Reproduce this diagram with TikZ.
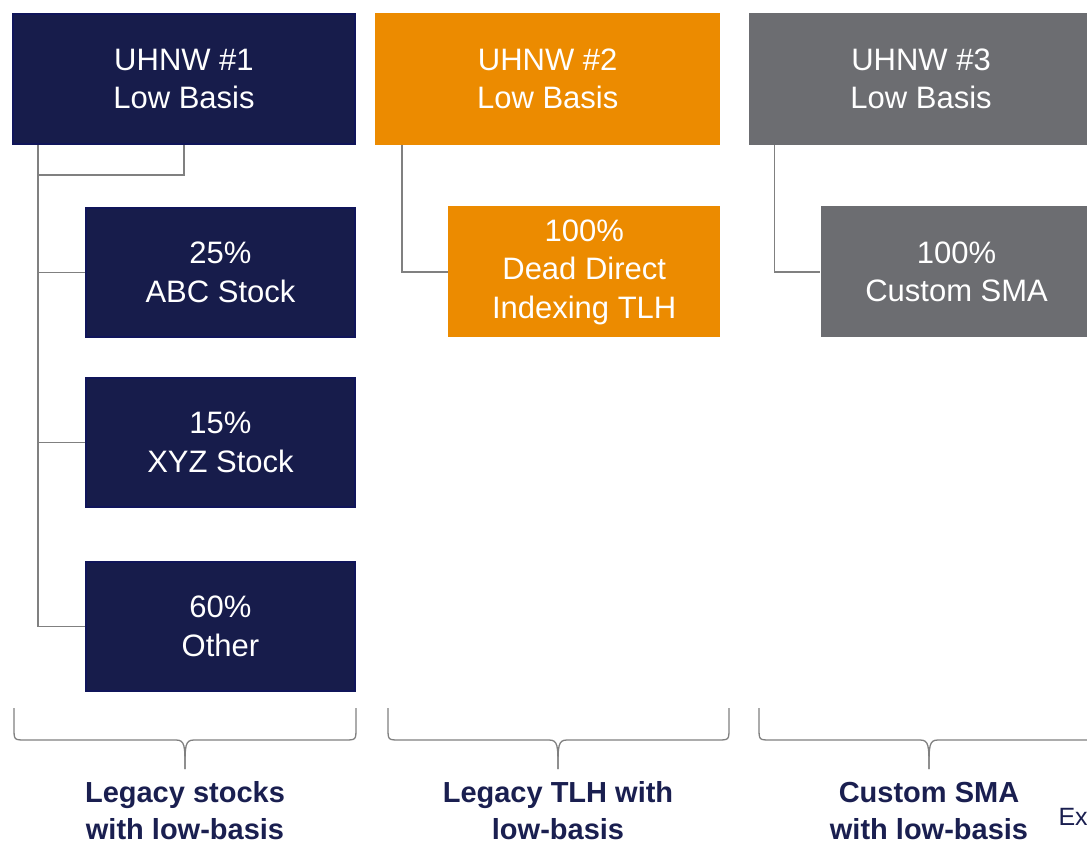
\documentclass[tikz,border=0pt]{standalone}
\usepackage{fontspec}
\setmainfont{Liberation Sans}
\usetikzlibrary{positioning, calc}

\definecolor{navy}{HTML}{171C4B}
\definecolor{navyedge}{HTML}{10155A}
\definecolor{amber}{HTML}{EC8B00}
\definecolor{slate}{HTML}{6C6D71}
\definecolor{linegrey}{HTML}{808080}
\definecolor{labelnavy}{HTML}{1A1F50}

\begin{document}
\begin{tikzpicture}[x=1pt, y=-1pt,
    box/.style={rectangle, text=white, align=center, inner sep=0pt, font=\fontsize{31}{38.5}\selectfont},
    parent/.style={box, minimum width=345pt, minimum height=132pt},
    leaf/.style={box, minimum width=272pt, minimum height=131pt},
    dark/.style={fill=navy, draw=navyedge, line width=2pt},
    darkparent/.style={parent, dark, minimum width=342pt, minimum height=130pt},
    darkleaf/.style={leaf, dark, minimum width=269pt, minimum height=129pt},
    link/.style={draw=linegrey, line width=1.3pt},
    brace/.style={draw=linegrey, line width=1.3pt},
    caption/.style={text=labelnavy, align=center, font=\bfseries\fontsize{29}{37}\selectfont}]

    \useasboundingbox (0,0) rectangle (1087,844);

    % clients
    \node[darkparent] (u1) at (184,79) {UHNW \#1\\Low Basis};
    \node[parent, fill=amber, right=19pt of u1] (u2) {UHNW \#2\\Low Basis};
    \node[parent, fill=slate, right=28pt of u2] (u3) {UHNW \#3\\Low Basis};

    % holdings
    \node[darkleaf, below=62pt of u1.south east, anchor=north east] (abc) {25\%\\ABC Stock};
    \node[darkleaf, below=39pt of abc] (xyz) {15\%\\XYZ Stock};
    \node[darkleaf, below=53pt of xyz] (other) {60\%\\Other};
    \node[leaf, fill=amber, below=61pt of u2.south east, anchor=north east] (tlh) {100\%\\Dead Direct\\Indexing TLH};
    \node[leaf, fill=slate, below=61pt of u3.south west, anchor=north west, xshift=72pt] (sma) {100\%\\Custom SMA};

    % tree lines
    \coordinate (t1) at ($(u1.south west)+(26pt,0pt)$);
    \coordinate (t2) at ($(u2.south west)+(27pt,0pt)$);
    \coordinate (t3) at ($(u3.south west)+(26pt,0pt)$);
    \draw[link] (u1.south) -- ++(0,-30pt) -| (t1);
    \draw[link] (t1) |- (abc.west);
    \draw[link] (t1) |- (xyz.west);
    \draw[link] (t1) |- (other.west);
    \draw[link] (t2) |- (tlh.west);
    \draw[link] (t3) |- (sma.west);

    % braces
    \foreach \l/\m/\r in {14/185/356, 388/558/729, 759/929/1099} {
        \draw[brace] (\l,708) -- (\l,728) .. controls (\l,740) .. ({\l+12},740)
            -- ({\m-9},740) .. controls (\m,740) and (\m,746) .. (\m,769);
        \draw[brace] (\r,708) -- (\r,728) .. controls (\r,740) .. ({\r-12},740)
            -- ({\m+9},740) .. controls (\m,740) and (\m,746) .. (\m,769);
    }

    \node[caption] (cap1) at (185,811) {Legacy stocks\\with low-basis};
    \node[caption] (cap2) at (558,811) {Legacy TLH with\\low-basis};
    \node[caption] (cap3) at (929,811) {Custom SMA\\with low-basis};
    \node[anchor=west, text=labelnavy, font=\fontsize{25}{30}\selectfont] (ex) at (1055,817) {Ex};
\end{tikzpicture}
\end{document}
